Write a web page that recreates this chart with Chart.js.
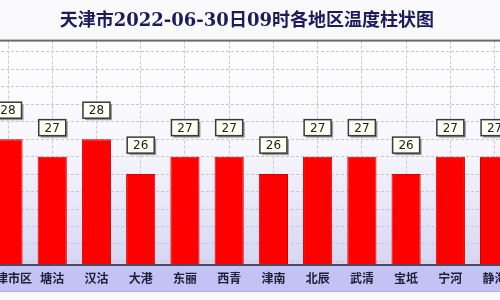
<!DOCTYPE html>
<html>
<head>
<meta charset="utf-8">
<script src="https://cdn.jsdelivr.net/npm/chart.js@4/dist/chart.umd.min.js"></script>
<style>
  html, body { margin: 0; padding: 0; width: 500px; height: 300px; overflow: hidden; background: #fafafd; }
  #wrap { position: absolute; left: -14px; top: 0; width: 531px; height: 300px; }
</style>
</head>
<body>
<div id="wrap"><canvas id="c"></canvas></div>
<script>
  // data
  const titleText = '天津市2022-06-30日09时各地区温度柱状图';
  const areas = ['天津市区', '塘沽', '汉沽', '大港', '东丽', '西青', '津南', '北辰', '武清', '宝坻', '宁河', '静海'];
  const temps = [28, 27, 28, 26, 27, 27, 26, 27, 27, 26, 27, 27];
  const gridTicks = [21, 22, 23, 24, 25, 26, 27, 28, 29, 30, 31, 32, 33];

  // the picture is a crop: plot area runs a bit past both page edges
  const plotLeft = -14.1, plotWidth = 530.4;

  /* backgrounds: title strip, plot gradient, label band */
  const backdrop = {
    id: 'backdrop',
    beforeDraw(chart) {
      const { ctx, chartArea: a, width, height } = chart;
      ctx.save();
      ctx.fillStyle = '#fafafd';
      ctx.fillRect(0, 0, width, height);
      const g = ctx.createLinearGradient(0, a.top, 0, a.bottom);
      g.addColorStop(0, '#ffffff');
      g.addColorStop(0.5, '#f6f6fc');
      g.addColorStop(1, '#d6d6f4');
      ctx.fillStyle = g;
      ctx.fillRect(0, a.top, width, a.bottom - a.top);
      ctx.fillStyle = '#c2c2f4';
      ctx.fillRect(0, a.bottom, width, 292 - a.bottom);
      ctx.fillStyle = '#b0b0e0';
      ctx.fillRect(0, 291, width, 1);
      ctx.restore();
    },
    afterDraw(chart) {
      const { ctx, chartArea: a, width } = chart;
      ctx.save();
      ctx.fillStyle = '#6a6a6a';
      ctx.fillRect(0, a.top - 1, width, 2);
      ctx.fillStyle = '#4a4a60';
      ctx.fillRect(0, a.bottom, width, 2);
      ctx.restore();
    }
  };

  /* the little boxed value labels above each bar */
  const valueBoxes = {
    id: 'valueBoxes',
    afterDatasetsDraw(chart) {
      const { ctx } = chart;
      const meta = chart.getDatasetMeta(0);
      ctx.save();
      ctx.font = '12px "DejaVu Sans", sans-serif';
      ctx.textAlign = 'center';
      ctx.textBaseline = 'middle';
      meta.data.forEach((bar, i) => {
        const cx = bar.x, cy = bar.y - 29;
        const w = 27, h = 16;
        ctx.fillStyle = '#9a9a9a';
        ctx.fillRect(cx - w / 2 + 2, cy - h / 2 + 2, w, h);
        ctx.fillStyle = '#fffff2';
        ctx.fillRect(cx - w / 2, cy - h / 2, w, h);
        ctx.strokeStyle = '#3a3a3a';
        ctx.lineWidth = 1.5;
        ctx.strokeRect(cx - w / 2, cy - h / 2, w, h);
        ctx.fillStyle = '#222222';
        ctx.fillText(String(temps[i]), cx, cy + 1);
      });
      ctx.restore();
    }
  };

  const chart = new Chart(document.getElementById('c'), {
    type: 'bar',
    data: {
      labels: areas,
      datasets: [{
        data: temps,
        backgroundColor: '#ff0000',
        borderColor: '#d00000',
        borderWidth: 1,
        categoryPercentage: 1,
        barPercentage: 0.66
      }]
    },
    options: {
      responsive: true,
      maintainAspectRatio: false,
      animation: false,
      layout: { padding: 0, autoPadding: false },
      plugins: {
        legend: { display: false },
        tooltip: { enabled: false },
        title: {
          display: true,
          text: titleText,
          color: '#1c1c5c',
          font: { family: '"DejaVu Serif", "Noto Sans CJK SC", serif', size: 18, weight: 'bold' },
          padding: { top: 11, bottom: 8 }
        }
      },
      scales: {
        x: {
          grid: { offset: false, color: '#c8c8c8', drawTicks: false },
          border: { display: false, dash: [3, 2] },
          ticks: {
            color: '#20203a',
            padding: 7,
            maxRotation: 0,
            autoSkip: false,
            font: { family: '"Noto Sans CJK SC", sans-serif', size: 12, weight: 'bold' }
          },
          afterFit(axis) { axis.height = 36; }
        },
        y: {
          min: 20.85,
          max: 33.65,
          grid: { color: '#c8c8c8', drawTicks: false },
          border: { display: false, dash: [3, 2] },
          ticks: { display: false },
          afterBuildTicks(axis) { axis.ticks = gridTicks.map(v => ({ value: v })); },
          afterFit(axis) { axis.width = 0; }
        }
      }
    },
    plugins: [backdrop, valueBoxes]
  });

  // shift/widen the canvas so the plot area lands where the crop had it
  const a = chart.chartArea;
  const padL = a.left, padR = chart.width - a.right;
  const wrap = document.getElementById('wrap');
  wrap.style.left = (plotLeft - padL) + 'px';
  wrap.style.width = (plotWidth + padL + padR) + 'px';
  chart.resize();
</script>
</body>
</html>
